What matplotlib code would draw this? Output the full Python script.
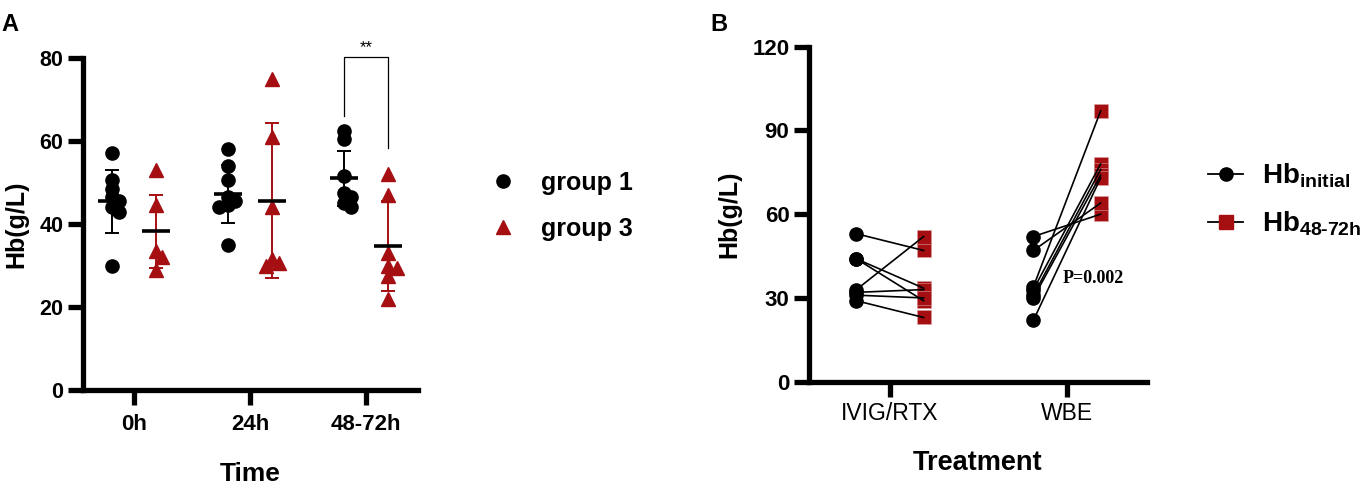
import numpy as np
import matplotlib
matplotlib.use('Agg')
import matplotlib.pyplot as plt
from matplotlib.lines import Line2D

plt.rcParams['font.family'] = ['Liberation Sans', 'DejaVu Sans']
plt.rcParams['font.weight'] = 'bold'
plt.rcParams['mathtext.fontset'] = 'custom'
plt.rcParams['mathtext.rm'] = 'Liberation Sans:bold'
plt.rcParams['mathtext.bf'] = 'Liberation Sans:bold'
plt.rcParams['mathtext.it'] = 'Liberation Sans:bold'

### Panel A data: Hb by time point
times = ['0h', '24h', '48-72h']
g1_vals = [[57, 50.5, 48.5, 46.5, 45.5, 44, 43, 30],
           [58, 54, 50.5, 46.5, 45.5, 44.5, 44, 35],
           [62.5, 60.5, 51.5, 47.5, 46.5, 45, 44]]
g3_vals = [[53, 44.5, 33.5, 32, 29],
           [75, 61, 44, 31.5, 30.5, 30],
           [52, 47, 33, 30, 29.5, 27.5, 22]]
g1_mean = [45.5, 47.2, 51.0]
g1_sd = [7.6, 7.0, 6.7]
g3_mean = [38.2, 45.6, 34.7]
g3_sd = [8.9, 18.7, 10.8]

### Panel B data: paired Hb before / after
treatments = ['IVIG/RTX', 'WBE']
ivig_initial = [53, 44, 44, 33, 32, 31, 29]
ivig_after = [47, 33.5, 29, 52, 33, 30, 23]
wbe_initial = [52, 47, 34, 33, 31, 30, 22]
wbe_after = [60, 64, 97, 78, 76, 74, 73]
p_text = 'P=0.002'

RED = '#A50F12'
W, H = 1366, 487
fig = plt.figure(figsize=(W / 100, H / 100), dpi=100)


def swarm(values, center, xpx, ypx, d=13.0):
    # small beeswarm: shift points sideways when they overlap (sizes in px)
    placed = []
    xs = []
    for v in values:
        off = 0.0
        for k in range(0, 40):
            cand = (k + 1) // 2 * 1.5 * (1 if k % 2 else -1) if k else 0.0
            if all((cand - po) ** 2 + ((v - pv) * ypx) ** 2 >= (0.6 * d) ** 2
                   for po, pv in placed):
                off = cand
                break
        placed.append((off, v))
        xs.append(center + off / xpx)
    return xs


def style_axes(ax):
    for s in ['top', 'right']:
        ax.spines[s].set_visible(False)
    for s in ['left', 'bottom']:
        ax.spines[s].set_linewidth(3.8)
    ax.tick_params(width=3.8, length=10.5)


### Panel A
axA = fig.add_axes([83 / W, 1 - 390 / H, (418 - 83) / W, (390 - 58) / H])
style_axes(axA)
xpxA = 116.5
ypxA = 332 / 80.0
off = 0.19
for i in range(3):
    x1 = swarm(g1_vals[i], i - off, xpxA, ypxA)
    x3 = swarm(g3_vals[i], i + off, xpxA, ypxA)
    axA.plot(x1, g1_vals[i], 'o', color='black', ms=9.5, zorder=2)
    axA.plot(x3, g3_vals[i], '^', color=RED, ms=9.5, zorder=2)
    axA.errorbar(i - off, g1_mean[i], yerr=g1_sd[i], fmt='none', ecolor='black',
                 elinewidth=1.4, capsize=5, capthick=1.4, zorder=3)
    axA.errorbar(i + off, g3_mean[i], yerr=g3_sd[i], fmt='none', ecolor=RED,
                 elinewidth=1.4, capsize=5, capthick=1.4, zorder=3)
    axA.hlines(g1_mean[i], i - off - 0.12, i - off + 0.12, color='black', lw=2.6, zorder=4)
    axA.hlines(g3_mean[i], i + off - 0.12, i + off + 0.12, color='black', lw=2.6, zorder=4)

# significance bracket at 48-72h
axA.plot([2 - off, 2 - off, 2 + off, 2 + off], [66, 80.3, 80.3, 58.3],
         color='black', lw=0.9, clip_on=False)
axA.text(2, 80.6, '**', ha='center', va='bottom', fontsize=12, fontweight='normal')

axA.set_xlim(-0.44, 2.45)
axA.set_ylim(0, 80)
axA.set_yticks([0, 20, 40, 60, 80])
axA.set_xticks(range(3))
axA.set_xticklabels(times, fontsize=16, fontweight='bold')
axA.tick_params(axis='y', labelsize=15.5, pad=3.6)
axA.tick_params(axis='x', pad=7)
axA.set_xlabel('Time', fontsize=19, fontweight='bold', labelpad=19)
axA.set_ylabel('Hb(g/L)', fontsize=18, fontweight='bold', labelpad=8)

hA = [Line2D([], [], marker='o', ls='none', color='black', ms=9.5),
      Line2D([], [], marker='^', ls='none', color=RED, ms=9.5)]
fig.legend(hA, ['group 1', 'group 3'], loc='center left',
           bbox_to_anchor=(490 / W, 1 - 206 / H), frameon=False,
           borderpad=0, borderaxespad=0, handlelength=1.0, handletextpad=1.05,
           labelspacing=0.9, prop={'size': 18, 'weight': 'bold'})

### Panel B
axB = fig.add_axes([809 / W, 1 - 381.7 / H, (1147 - 809) / W, (381.7 - 46.7) / H])
style_axes(axB)
for i, (ini, aft) in enumerate([(ivig_initial, ivig_after), (wbe_initial, wbe_after)]):
    xi = np.full(len(ini), i - off)
    xa = np.full(len(aft), i + off)
    axB.plot(xi, ini, 'o', color='black', ms=9.5, zorder=2)
    axB.plot(xa, aft, 's', color=RED, ms=9.5, mec='#d9a0a0', mew=0.4, zorder=2)
    for a, b in zip(ini, aft):
        axB.plot([i - off, i + off], [a, b], color='black', lw=1.2, zorder=3)

axB.text(1.147, 36.8, p_text, ha='center', va='center', fontsize=13,
         family='Liberation Serif', fontweight='bold')

axB.set_xlim(-0.458, 1.452)
axB.set_ylim(0, 120)
axB.set_yticks([0, 30, 60, 90, 120])
axB.set_xticks([0, 1])
axB.set_xticklabels(treatments, fontsize=16.5, fontweight='normal')
axB.tick_params(axis='y', labelsize=16, pad=3.6)
axB.tick_params(axis='x', pad=4)
axB.set_xlabel('Treatment', fontsize=19.5, fontweight='bold', labelpad=18)
axB.set_ylabel('Hb(g/L)', fontsize=18, fontweight='bold', labelpad=8)

hB = [Line2D([], [], marker='o', color='black', ms=9.5, lw=1.3),
      Line2D([], [], marker='s', color='black', mfc=RED, mec=RED, ms=9.5, lw=1.3)]
fig.legend(hB, [r'$\mathrm{Hb}_{\mathrm{initial}}$', r'$\mathrm{Hb}_{\mathrm{48\text{-}72h}}$'],
           loc='center left', bbox_to_anchor=(1208 / W, 1 - 200 / H), frameon=False,
           borderpad=0, borderaxespad=0, handlelength=1.26, handletextpad=0.68,
           labelspacing=0.72, prop={'size': 20, 'weight': 'bold'})

fig.text(1 / W, 1 - 13 / H, 'A', fontsize=17, fontweight='bold', va='top', ha='left')
fig.text(710 / W, 1 - 13 / H, 'B', fontsize=17, fontweight='bold', va='top', ha='left')

fig.savefig('out.png', dpi=100)
